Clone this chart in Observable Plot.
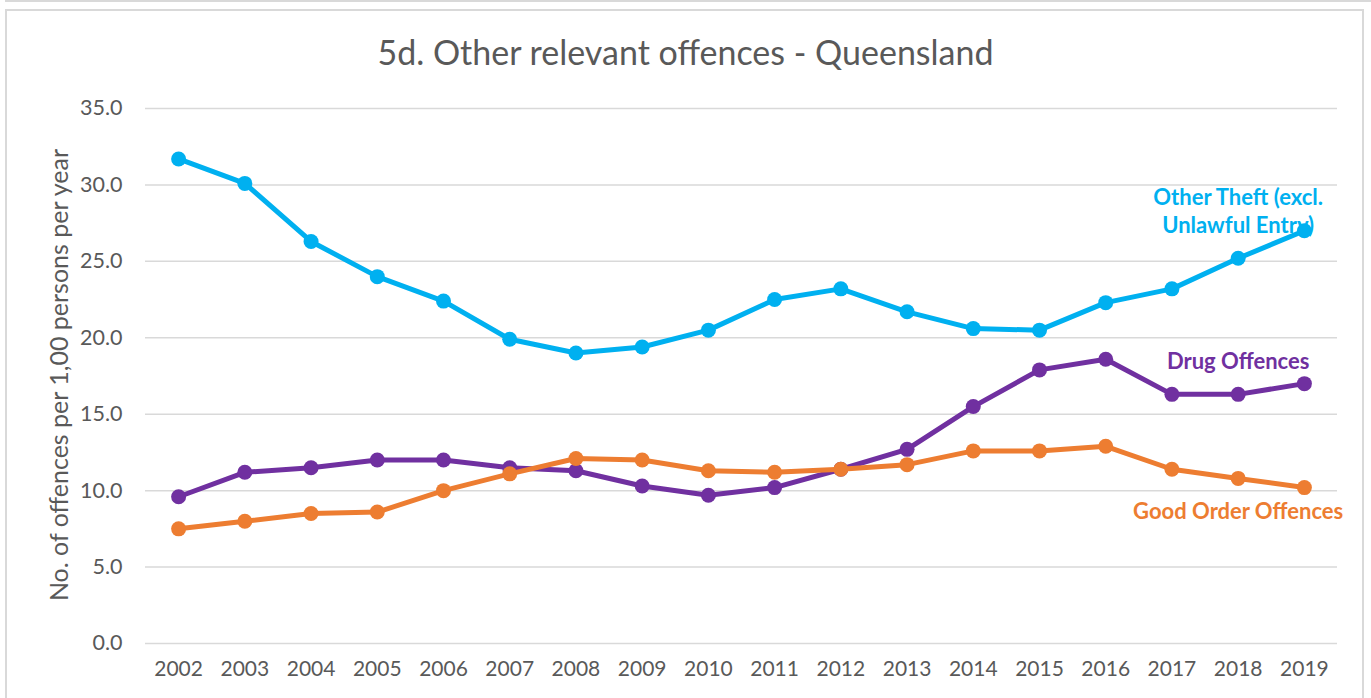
<!DOCTYPE html>
<html><head><meta charset="utf-8">
<script src="https://cdn.jsdelivr.net/npm/d3@7"></script>
<script src="https://cdn.jsdelivr.net/npm/@observablehq/plot@0.6"></script>
<style>
html,body{margin:0;padding:0;background:#fff;}
body{width:1371px;height:698px;overflow:hidden;position:relative;font-family:Lato,"Open Sans",sans-serif;}
#topline{position:absolute;left:5px;top:0;width:1366px;height:0;border-top:2px solid #d9d9d9;}
#frame{position:absolute;left:5px;top:9px;width:1359px;height:700px;border:2px solid #d9d9d9;box-sizing:border-box;}
#title{position:absolute;left:0;width:1371px;top:32px;line-height:40px;text-align:center;font-size:34px;color:#595959;}
#ylabel{position:absolute;left:58px;top:375px;transform:translate(-50%,-50%) rotate(-90deg);white-space:nowrap;font-size:25px;color:#595959;}
#chart{position:absolute;left:0;top:80px;}
</style></head>
<body>
<div id="topline"></div>
<div id="frame"></div>
<div id="title">5d. Other relevant offences - Queensland</div>
<div id="ylabel">No. of offences per 1,00 persons per year</div>
<div id="chart"></div>
<script>
const years = [2002,2003,2004,2005,2006,2007,2008,2009,2010,2011,2012,2013,2014,2015,2016,2017,2018,2019];
const otherTheft = [31.7,30.1,26.3,24.0,22.4,19.9,19.0,19.4,20.5,22.5,23.2,21.7,20.6,20.5,22.3,23.2,25.2,27.0];
const drugOffences = [9.6,11.2,11.5,12.0,12.0,11.5,11.3,10.3,9.7,10.2,11.4,12.7,15.5,17.9,18.6,16.3,16.3,17.0];
const goodOrder = [7.5,8.0,8.5,8.6,10.0,11.1,12.1,12.0,11.3,11.2,11.4,11.7,12.6,12.6,12.9,11.4,10.8,10.2];
const seriesNames = ["Other Theft (excl. Unlawful Entry)","Drug Offences","Good Order Offences"];
const seriesColors = ["#00b0f0","#7030a0","#ed7d31"];
const yTicks = [0,5,10,15,20,25,30,35];

// direct labels (annotation text placed in data coordinates)
const labelTexts = ["Other Theft (excl.","Unlawful Entry)","Drug Offences","Good Order Offences"];
const labelSeries = [0,0,1,2];
const labelYear = [2018,2018,2018,2018];
const labelValue = [29.18,27.3,18.43,8.58];

const valuesBySeries = [otherTheft, drugOffences, goodOrder];
const rows = [];
valuesBySeries.forEach((vals,i)=>vals.forEach((v,j)=>rows.push({series:seriesNames[i], year:years[j], value:v})));
const labels = labelTexts.map((t,i)=>({text:t, series:seriesNames[labelSeries[i]], year:labelYear[i], value:labelValue[i]}));
const drawOrder = [1,2,0];

const marks = [
  Plot.ruleY(yTicks, {stroke:"#d9d9d9", strokeWidth:1.5}),
  Plot.axisY({ticks:yTicks, tickSize:0, tickPadding:23, tickFormat:d=>d.toFixed(1), fontSize:21.5, color:"#595959", label:null}),
  Plot.axisX({ticks:years, tickSize:0, tickPadding:18, tickFormat:d=>String(d), fontSize:21, color:"#595959", label:null}),
  Plot.text(labels, {x:"year", y:"value", text:"text", fill:"series", fontWeight:"bold", fontSize:22})
];
for (const i of drawOrder) {
  const data = rows.filter(r=>r.series===seriesNames[i]);
  marks.push(Plot.line(data, {x:"year", y:"value", stroke:"series", strokeWidth:5}));
  marks.push(Plot.dot(data, {x:"year", y:"value", fill:"series", r:7.5}));
}

const chart = Plot.plot({
  width:1371, height:613,
  marginLeft:145, marginRight:34, marginTop:28, marginBottom:50,
  style:{fontFamily:"Lato, 'Open Sans', sans-serif", background:"transparent", overflow:"visible"},
  x:{domain:[2001.5,2019.5]},
  y:{domain:[0,35]},
  color:{domain:seriesNames, range:seriesColors},
  marks
});
document.getElementById("chart").append(chart);
</script>
</body></html>
